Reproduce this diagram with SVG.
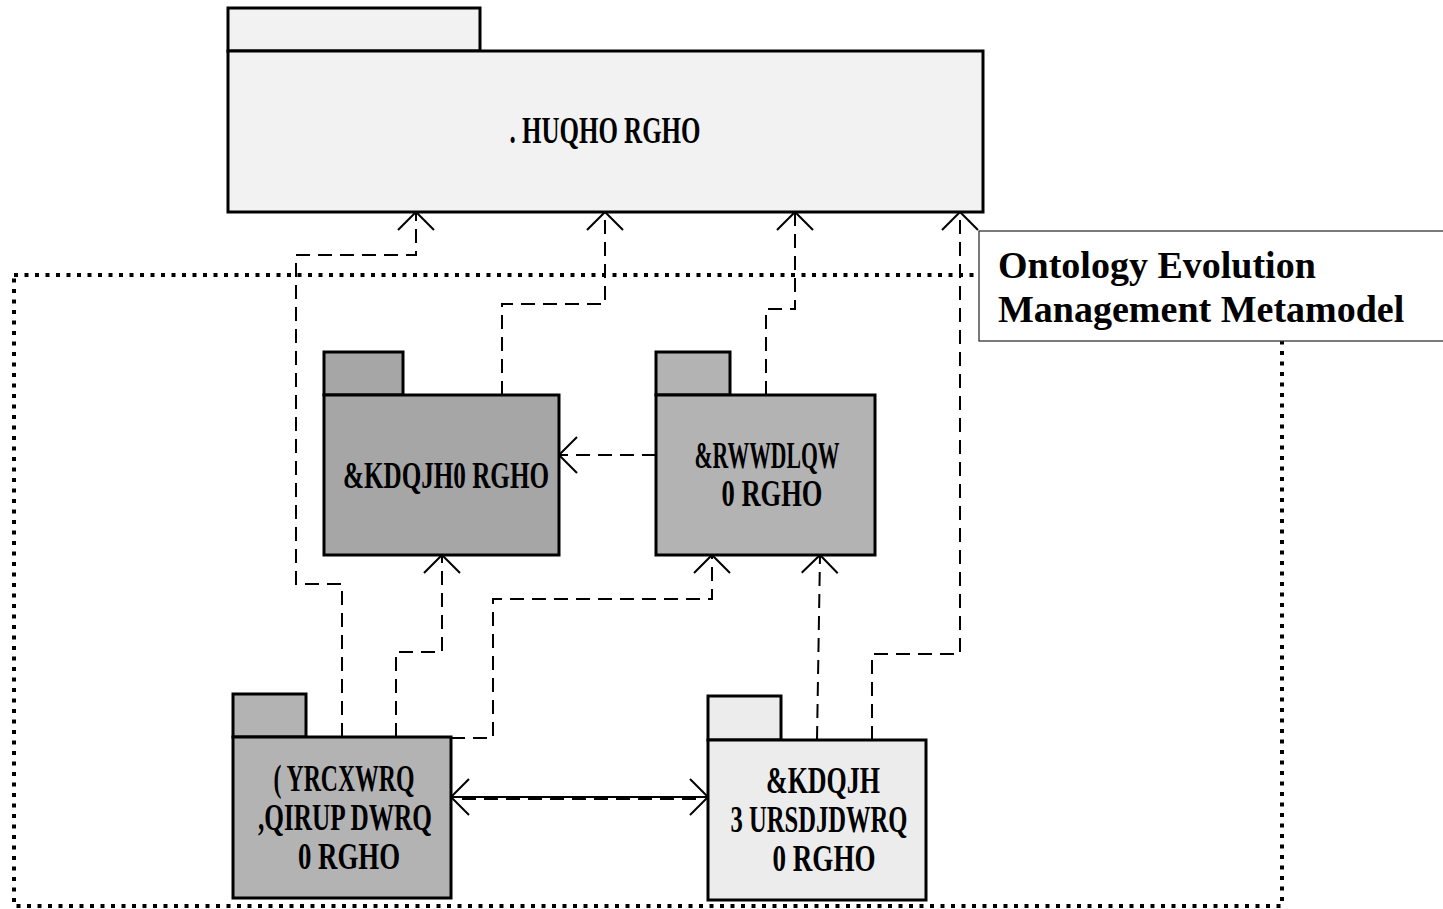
<svg xmlns="http://www.w3.org/2000/svg" width="1443" height="909" viewBox="0 0 1443 909">
<style>
.pkg{stroke:#000;stroke-width:3}
.lbl{font-family:"Liberation Serif","Times New Roman",serif;font-weight:bold;font-size:37px;fill:#000;text-anchor:middle}
.dep{fill:none;stroke:#000;stroke-width:2;stroke-dasharray:14 8}
.note{font-family:"Liberation Serif","Times New Roman",serif;font-weight:bold;font-size:38px;fill:#000}
</style>
<defs>
<marker id="open" markerUnits="userSpaceOnUse" markerWidth="40" markerHeight="40" viewBox="0 0 40 40" refX="20" refY="20" orient="auto-start-reverse">
<path d="M2,2 L20,20 L2,38" fill="none" stroke="#000" stroke-width="2"/>
</marker>
</defs>
<rect x="0" y="0" width="1443" height="909" fill="#fff"/>
<g id="frame">
<rect x="14" y="275" width="1268" height="631" fill="none" stroke="#000" stroke-width="4" stroke-dasharray="4 6.5"/>
</g>
<g id="connectors">
<path class="dep" d="M342,737 V584 H296 V255 H416 V212" marker-end="url(#open)"/>
<path class="dep" d="M502,395 V304 H605 V212" marker-end="url(#open)"/>
<path class="dep" d="M766,395 V309 H795 V212" marker-end="url(#open)"/>
<path class="dep" d="M872,740 V654 H960 V212" marker-end="url(#open)"/>
<path class="dep" d="M396,737 V652 H442 V555" marker-end="url(#open)"/>
<path class="dep" d="M451,738 H493 V599 H712 V555" marker-end="url(#open)"/>
<path class="dep" d="M817,740 L820,555" marker-end="url(#open)"/>
<path class="dep" d="M656,455 H559" marker-end="url(#open)"/>
<path d="M451,797 H708" fill="none" stroke="#000" stroke-width="2" marker-start="url(#open)" marker-end="url(#open)"/>
<path class="dep" d="M462,799 H700"/>
</g>
<g id="kernel">
<rect class="pkg" x="228" y="8" width="252" height="43" fill="#f2f2f2"/>
<rect class="pkg" x="228" y="51" width="755" height="161" fill="#f2f2f2"/>
<text class="lbl" x="605" y="143" textLength="191" lengthAdjust="spacingAndGlyphs">. HUQHO RGHO</text>
</g>
<g id="change-model">
<rect class="pkg" x="324" y="352" width="79" height="43" fill="#a6a6a6"/>
<rect class="pkg" x="324" y="395" width="235" height="160" fill="#a6a6a6"/>
<text class="lbl" x="446" y="488" textLength="206" lengthAdjust="spacingAndGlyphs">&amp;KDQJH0 RGHO</text>
</g>
<g id="constraint-model">
<rect class="pkg" x="656" y="352" width="74" height="43" fill="#b3b3b3"/>
<rect class="pkg" x="656" y="395" width="219" height="160" fill="#b3b3b3"/>
<text class="lbl" x="767" y="468" textLength="145" lengthAdjust="spacingAndGlyphs">&amp;RWWDLQW</text>
<text class="lbl" x="772" y="506" textLength="101" lengthAdjust="spacingAndGlyphs">0 RGHO</text>
</g>
<g id="evolution-information-model">
<rect class="pkg" x="233" y="694" width="73" height="43" fill="#b3b3b3"/>
<rect class="pkg" x="233" y="737" width="218" height="161" fill="#b3b3b3"/>
<text class="lbl" x="344" y="791" textLength="141" lengthAdjust="spacingAndGlyphs">( YRCXWRQ</text>
<text class="lbl" x="345" y="830" textLength="174" lengthAdjust="spacingAndGlyphs">,QIRUP DWRQ</text>
<text class="lbl" x="349" y="869" textLength="102" lengthAdjust="spacingAndGlyphs">0 RGHO</text>
</g>
<g id="change-propagation-model">
<rect class="pkg" x="708" y="696" width="73" height="44" fill="#ececec"/>
<rect class="pkg" x="708" y="740" width="218" height="160" fill="#ececec"/>
<text class="lbl" x="823" y="793" textLength="114" lengthAdjust="spacingAndGlyphs">&amp;KDQJH</text>
<text class="lbl" x="819" y="832" textLength="177" lengthAdjust="spacingAndGlyphs">3 URSDJDWRQ</text>
<text class="lbl" x="824" y="871" textLength="103" lengthAdjust="spacingAndGlyphs">0 RGHO</text>
</g>
<g id="title-note">
<rect x="979" y="231" width="470" height="110" fill="#fff" stroke="#333" stroke-width="1.3"/>
<text class="note" x="998" y="278">Ontology Evolution</text>
<text class="note" x="998" y="322">Management Metamodel</text>
</g>
</svg>
